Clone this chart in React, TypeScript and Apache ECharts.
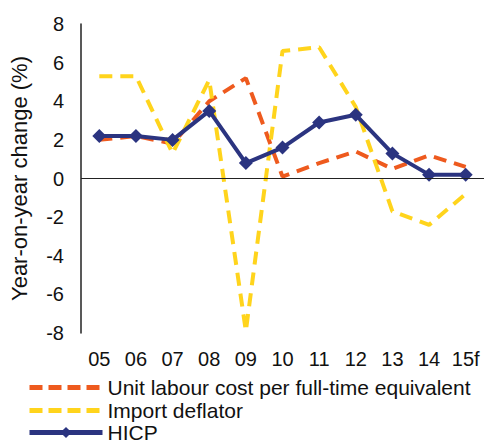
import React, { useEffect, useRef } from "react";
import * as echarts from "echarts";

const categories = ["05", "06", "07", "08", "09", "10", "11", "12", "13", "14", "15f"];
const unitLabourCost = [2.0, 2.2, 1.8, 4.0, 5.2, 0.1, 0.8, 1.4, 0.5, 1.2, 0.6];
const importDeflator = [5.3, 5.3, 1.3, 5.1, -7.9, 6.6, 6.8, 3.7, -1.7, -2.4, -0.8];
const hicp = [2.2, 2.2, 2.0, 3.5, 0.8, 1.6, 2.9, 3.3, 1.3, 0.2, 0.2];
const yTicks = { min: -8, max: 8, interval: 2 };
const seriesNames = ["Unit labour cost per full-time equivalent", "Import deflator", "HICP"];

const FONT = "Liberation Sans, Arial, sans-serif";
const ORANGE = "#EE5A1E";
const YELLOW = "#FFD41C";
const NAVY = "#2B3480";

export default function App() {
  const ref = useRef<HTMLDivElement>(null);
  useEffect(() => {
    if (!ref.current) return;
    const chart = echarts.init(ref.current, undefined, { renderer: "svg" });
    const legendTops = [377, 400, 422];
    chart.setOption({
      animation: false,
      textStyle: { fontFamily: FONT },
      grid: { left: 78, right: 2, top: 24, bottom: 110 },
      xAxis: {
        type: "category",
        data: categories,
        boundaryGap: true,
        axisLine: { show: false, onZero: false },
        axisTick: { show: false },
        axisLabel: { color: "#111", fontSize: 20, margin: 16, fontFamily: FONT },
      },
      yAxis: {
        type: "value",
        min: yTicks.min,
        max: yTicks.max,
        interval: yTicks.interval,
        name: "Year-on-year change (%)",
        nameLocation: "middle",
        nameRotate: 90,
        nameGap: 51,
        nameTextStyle: { color: "#111", fontSize: 22, fontFamily: FONT },
        axisLine: { show: true, lineStyle: { color: "#222", width: 1.5 } },
        axisTick: { show: false },
        splitLine: { show: false },
        axisLabel: { color: "#111", fontSize: 20, margin: 17, fontFamily: FONT },
      },
      legend: seriesNames.map((n, i) => ({
        orient: "vertical",
        left: 27,
        top: legendTops[i],
        padding: 0,
        itemWidth: 73,
        itemHeight: 14,
        itemGap: 0,
        selectedMode: false,
        itemStyle: i < 2 ? { opacity: 0 } : { color: NAVY, borderColor: NAVY },
        lineStyle: i < 2 ? { width: 5, type: [13, 6] } : { width: 5, color: NAVY },
        textStyle: { color: "#111", fontSize: 21, fontFamily: FONT },
        data: [n],
      })),
      series: [
        {
          name: seriesNames[0],
          type: "line",
          data: unitLabourCost,
          symbol: "none",
          lineStyle: { color: ORANGE, width: 4, type: [13, 8] },
          itemStyle: { color: ORANGE },
          z: 2,
          markLine: {
            silent: true,
            symbol: "none",
            label: { show: false },
            lineStyle: { color: "#222", width: 1.2, type: "solid" },
            data: [{ yAxis: 0 }],
          },
        },
        {
          name: seriesNames[1],
          type: "line",
          data: importDeflator,
          symbol: "none",
          lineStyle: { color: YELLOW, width: 4, type: [13, 8] },
          itemStyle: { color: YELLOW },
          z: 3,
        },
        {
          name: seriesNames[2],
          type: "line",
          data: hicp,
          symbol: "diamond",
          symbolSize: 14,
          lineStyle: { color: NAVY, width: 4 },
          itemStyle: { color: NAVY },
          z: 4,
        },
      ],
    });
    return () => chart.dispose();
  }, []);
  return <div ref={ref} style={{ width: 486, height: 443, position: "absolute", left: 0, top: 0 }} />;
}
